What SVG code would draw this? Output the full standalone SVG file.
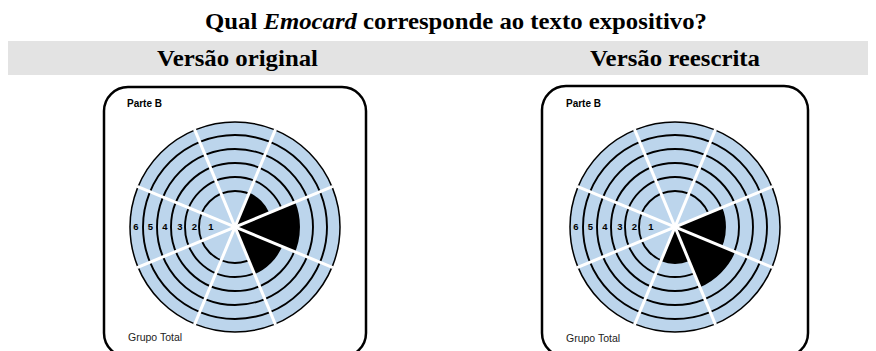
<svg xmlns="http://www.w3.org/2000/svg" xmlns:xlink="http://www.w3.org/1999/xlink" width="876" height="351" viewBox="0 0 876 351">
<style>
.title{font-family:"Liberation Serif","Times New Roman",serif;font-weight:bold;fill:#000}
.card{fill:#fff;stroke:#000;stroke-width:2.5}
.disk{fill:#bcd5ec;stroke:#000;stroke-width:1.5}
.ring{fill:none;stroke:#000;stroke-width:1.9}
.div{stroke:#fff;stroke-width:3}
.wedge{fill:#000}
.lbl{font-family:"Liberation Sans",Arial,sans-serif;font-weight:bold;font-size:10px;fill:#000}
.grp{font-family:"Liberation Sans",Arial,sans-serif;font-size:10.5px;fill:#222}
.num{font-family:"Liberation Sans",Arial,sans-serif;font-weight:bold;font-size:9.5px;fill:#000;text-anchor:middle}
</style>
<defs>
<g id="rings">
<circle class="ring" r="92"/>
<circle class="ring" r="78"/>
<circle class="ring" r="64"/>
<circle class="ring" r="50"/>
<circle class="ring" r="36"/>
<line class="div" x1="-97.93" y1="40.56" x2="97.93" y2="-40.56"/>
<line class="div" x1="-40.56" y1="97.93" x2="40.56" y2="-97.93"/>
<line class="div" x1="40.56" y1="97.93" x2="-40.56" y2="-97.93"/>
<line class="div" x1="97.93" y1="40.56" x2="-97.93" y2="-40.56"/>
<text class="num" x="-99" y="2.5">6</text>
<text class="num" x="-84.5" y="2.5">5</text>
<text class="num" x="-70" y="2.5">4</text>
<text class="num" x="-55" y="2.5">3</text>
<text class="num" x="-40.5" y="2.5">2</text>
<text class="num" x="-24" y="2.5">1</text>
</g>
</defs>
<rect x="0" y="0" width="876" height="351" fill="#fff"/>
<g id="header">
<text class="title" x="456" y="29" font-size="24" text-anchor="middle" textLength="502" lengthAdjust="spacingAndGlyphs">Qual <tspan font-style="italic">Emocard</tspan> corresponde ao texto expositivo?</text>
<rect x="8" y="41" width="860" height="34" fill="#e3e3e3"/>
<text class="title" x="237.5" y="66" font-size="24" text-anchor="middle" textLength="161" lengthAdjust="spacingAndGlyphs">Versão original</text>
<text class="title" x="675" y="66" font-size="24" text-anchor="middle" textLength="170" lengthAdjust="spacingAndGlyphs">Versão reescrita</text>
</g>
<g id="card-original">
<rect class="card" x="104" y="87" width="262" height="270" rx="24"/>
<text class="lbl" x="127" y="107">Parte B</text>
<circle class="disk" cx="235" cy="227" r="105"/>
<path class="wedge" d="M235,227 L268.26,213.22 A36,36 0 0 0 248.78,193.74 Z"/>
<path class="wedge" d="M235,227 L294.13,251.49 A64,64 0 0 0 294.13,202.51 Z"/>
<path class="wedge" d="M235,227 L254.13,273.19 A50,50 0 0 0 281.19,246.13 Z"/>
<use xlink:href="#rings" transform="translate(235,227)"/>
<text class="grp" x="128" y="341">Grupo Total</text>
</g>
<g id="card-reescrita">
<rect class="card" x="542" y="86" width="266" height="271" rx="24"/>
<text class="lbl" x="566" y="107">Parte B</text>
<circle class="disk" cx="675" cy="227" r="105"/>
<path class="wedge" d="M675,227 L721.19,246.13 A50,50 0 0 0 721.19,207.87 Z"/>
<path class="wedge" d="M675,227 L699.49,286.13 A64,64 0 0 0 734.13,251.49 Z"/>
<path class="wedge" d="M675,227 L661.22,260.26 A36,36 0 0 0 688.78,260.26 Z"/>
<use xlink:href="#rings" transform="translate(675,227)"/>
<text class="grp" x="566" y="342">Grupo Total</text>
</g>
</svg>
